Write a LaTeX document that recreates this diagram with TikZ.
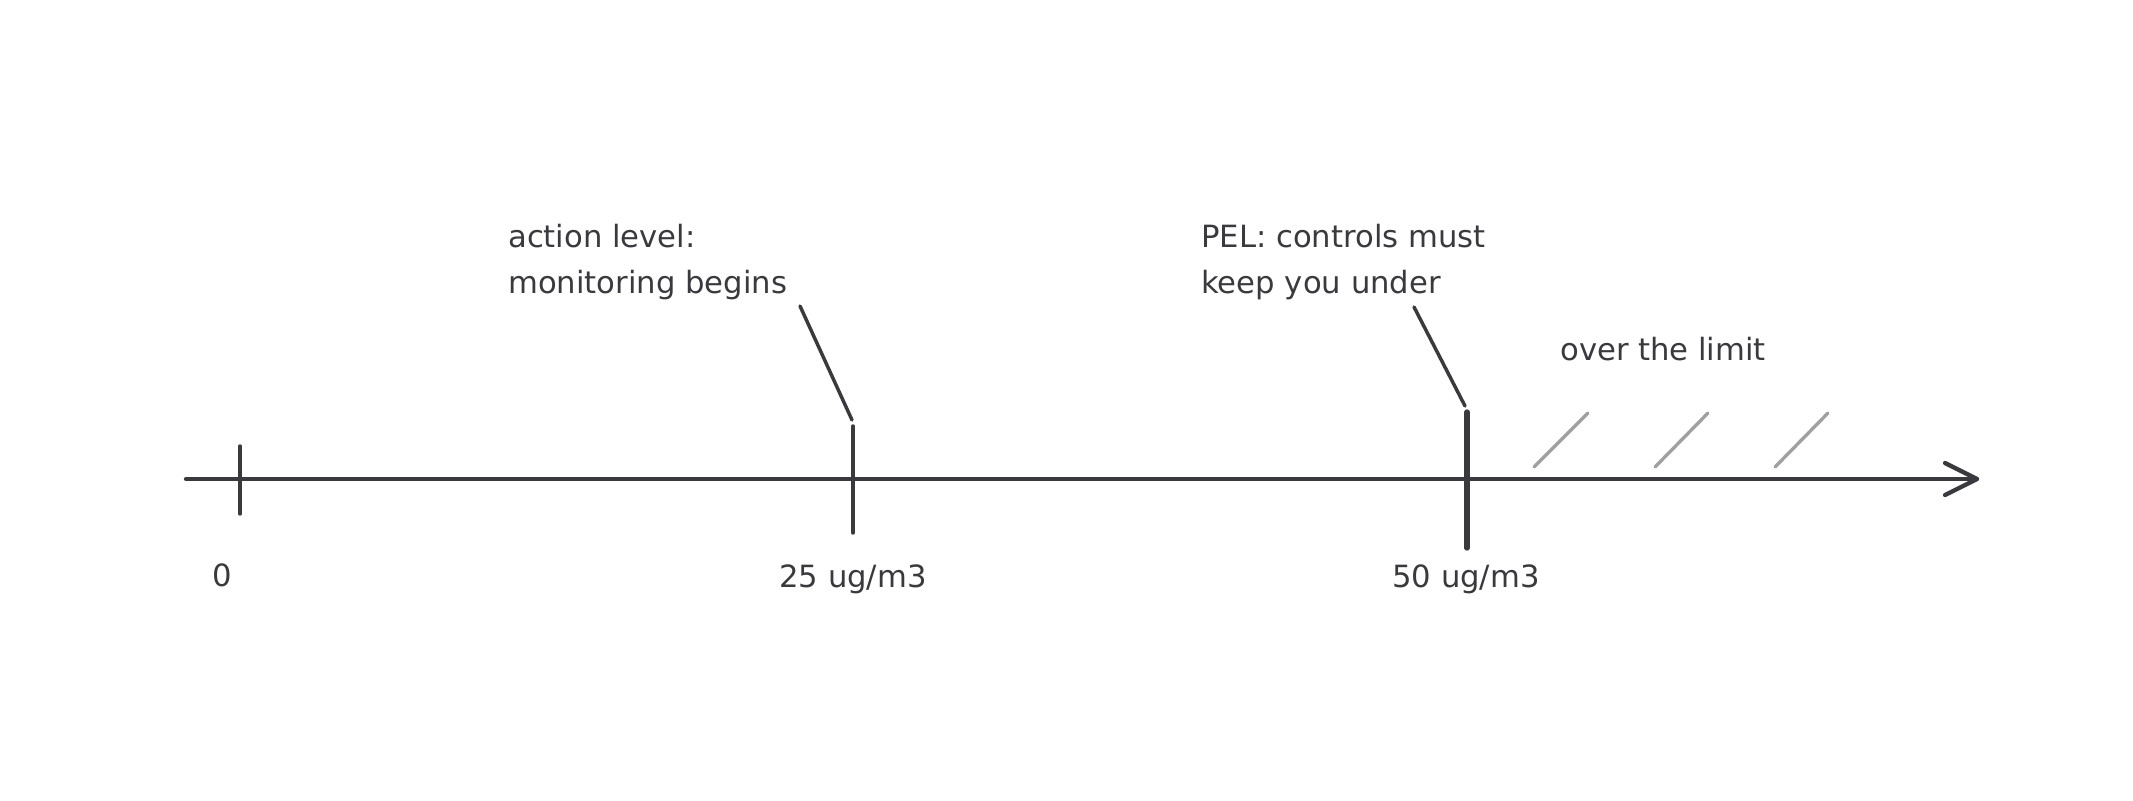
\documentclass[tikz,border=0pt]{standalone}
\usepackage{fontspec}
\setmainfont{DejaVu Sans}
\definecolor{ink}{RGB}{58,58,62}
\definecolor{hatch}{RGB}{160,160,160}
\begin{document}
\begin{tikzpicture}[x=0.75pt,y=-0.75pt,
  lbl/.style={inner sep=0pt,text=ink,font=\fontsize{23pt}{28pt}\selectfont},
  axisline/.style={draw=ink,line width=3.2pt,line cap=round,line join=round},
  tickmark/.style={draw=ink,line width=2.6pt,line cap=round},
  bigtick/.style={draw=ink,line width=4pt,line cap=round},
  leader/.style={draw=ink,line width=2.6pt,line cap=round},
  hatchline/.style={draw=hatch,line width=2.5pt,line cap=round}]
\useasboundingbox (0,0) rectangle (2133,800);
% axis
\coordinate (axstart) at (186,479);
\coordinate (axend) at (1977,479);
\draw[axisline] (axstart) -- (axend);
\draw[axisline] (axend) ++(-32,-16) -- (axend) -- ++(-32,16);
% ticks
\coordinate (t0top) at (240,446);   \coordinate (t0bot) at (240,514);
\coordinate (t25top) at (853,426);  \coordinate (t25bot) at (853,533);
\coordinate (t50top) at (1467,412); \coordinate (t50bot) at (1467,548);
\draw[tickmark] (t0top) -- (t0bot);
\draw[tickmark] (t25top) -- (t25bot);
\draw[bigtick] (t50top) -- (t50bot);
% tick labels
\node[lbl,anchor=base] (l0) at (222,586) {0};
\node[lbl,anchor=base] (l25) at (853,587) {25 ug/m3};
\node[lbl,anchor=base] (l50) at (1466,587) {50 ug/m3};
% annotations
\node[lbl,anchor=base west] (a1) at (508,247) {action level:};
\node[lbl,anchor=base west] (a2) at (508,293) {monitoring begins};
\node[lbl,anchor=base west] (p1) at (1201,247) {PEL: controls must};
\node[lbl,anchor=base west] (p2) at (1201,293) {keep you under};
\node[lbl,anchor=base west] (ov) at (1560,360) {over the limit};
% leaders
\coordinate (ld25a) at (800,306); \coordinate (ld25b) at (852,420);
\coordinate (ld50a) at (1414,307); \coordinate (ld50b) at (1465,406);
\draw[leader] (ld25a) -- (ld25b);
\draw[leader] (ld50a) -- (ld50b);
% hatches
\coordinate (h1a) at (1534,467); \coordinate (h1b) at (1588,413);
\coordinate (h2a) at (1655,467); \coordinate (h2b) at (1708,413);
\coordinate (h3a) at (1775,467); \coordinate (h3b) at (1828,413);
\draw[hatchline] (h1a) -- (h1b);
\draw[hatchline] (h2a) -- (h2b);
\draw[hatchline] (h3a) -- (h3b);
\end{tikzpicture}
\end{document}
